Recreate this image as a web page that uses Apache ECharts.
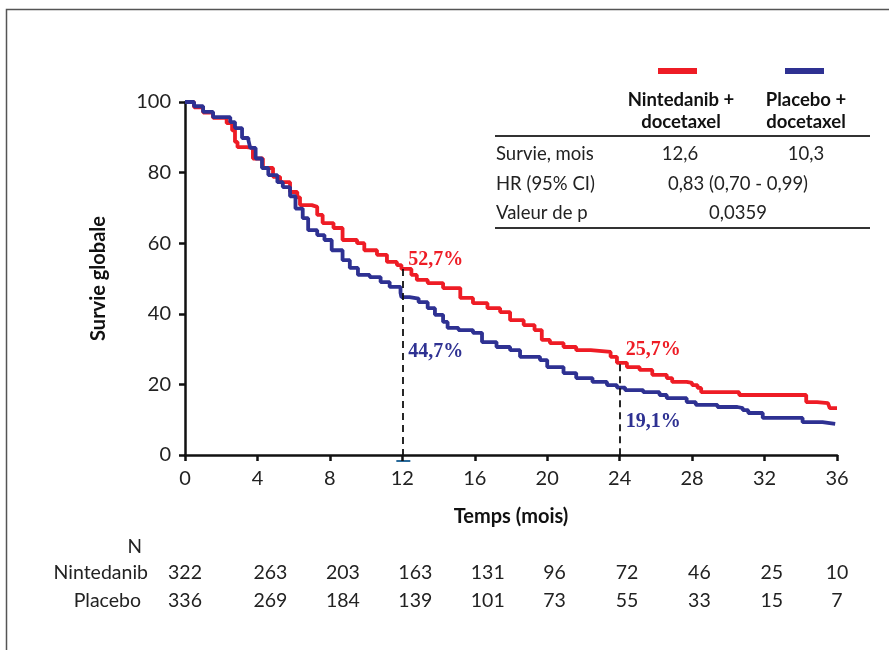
<!DOCTYPE html>
<html>
<head>
<meta charset="utf-8">
<script src="https://cdn.jsdelivr.net/npm/echarts@6/dist/echarts.min.js"></script>
<style>
html, body { margin: 0; padding: 0; background: #fff; }
#main { width: 889px; height: 650px; }
</style>
</head>
<body>
<div id="main"></div>
<script>
// Kaplan-Meier curves: [mois, survie %]
var nintedanib = [[0,100],[0.5,98.5],[1.0,97],[1.55,95.5],[2.3,94],[2.6,92],[2.76,88.7],[2.9,87.2],[3.4,87],[3.75,84],[4.3,81.3],[4.86,78.8],[5.25,77.3],[5.8,74.5],[6.2,73],[6.35,70.8],[7.0,70.3],[7.3,68],[7.6,65.7],[8.2,64.3],[8.7,60.9],[9.5,60],[9.9,58],[10.6,56.7],[11.15,54.7],[11.7,53.8],[11.95,52.7],[12.5,51],[12.8,49.6],[13.4,48.7],[14.25,47.3],[15.2,44.5],[15.9,43],[16.7,41.6],[17.4,40.5],[17.95,38.2],[18.7,36.8],[19.3,35.4],[19.7,32.6],[20.15,31.7],[20.9,30.6],[21.6,29.7],[22.4,29.2],[23.5,27.8],[23.85,26.1],[24.4,24.9],[25.1,24.1],[25.8,22.7],[26.6,21.8],[26.9,20.7],[27.7,20.4],[28.0,19.8],[28.3,19],[28.5,17.8],[30.6,17],[34.3,15],[34.9,14.7],[35.5,14.2],[35.6,13.3],[36,13.3]];
var placebo = [[0,100],[0.5,98.8],[1.0,97.2],[1.55,95.7],[2.5,94.3],[2.76,92.6],[3.15,89.8],[3.5,89.2],[3.6,87],[3.9,84],[4.25,81.3],[4.6,79.3],[5.1,77.3],[5.4,75.9],[5.8,73.3],[6.1,69.8],[6.5,67.1],[6.8,63.7],[7.3,62.3],[7.7,60.9],[8.1,58],[8.7,55.2],[9.1,53],[9.55,51],[10.2,50.4],[10.8,49],[11.3,47.6],[11.9,45.9],[11.95,44.7],[12.4,44.3],[12.9,43.3],[13.4,41.6],[13.8,39.7],[14.25,37.7],[14.5,36],[15.1,35.4],[15.9,34.6],[16.4,32],[17.2,30.6],[17.95,29.7],[18.5,27.8],[19.6,26.9],[20,24.9],[20.9,23.2],[21.6,21.8],[22.5,20.7],[23.3,19.8],[23.85,19.1],[24.3,18.4],[25.3,17.8],[26.2,17],[26.6,16.1],[27.7,15],[28.2,14.2],[29.4,13.6],[30.5,13.3],[30.8,12.7],[31.1,11.9],[31.9,10.5],[34.1,9.3],[35.2,8.8],[35.9,8.8]];

// repères à 12 et 24 mois
var markTimes = [12, 24];
var markNinte = [52.7, 25.7];
var markPlac = [44.7, 19.1];

// nombre de patients à risque
var riskTimes = [0, 4, 8, 12, 16, 20, 24, 28, 32, 36];
var riskNinte = [322, 263, 203, 163, 131, 96, 72, 46, 25, 10];
var riskPlac = [336, 269, 184, 139, 101, 73, 55, 33, 15, 7];

// tableau de résultats
var tableRows = ['Survie, mois', 'HR (95% CI)', 'Valeur de p'];
var tableMedian = ['12,6', '10,3'];
var tableHR = '0,83 (0,70 - 0,99)';
var tableP = '0,0359';

var RED = '#ee1c25';
var BLUE = '#2e3192';
var FONT = 'Lato';
var SERIF = '"Liberation Serif"';

function pct(v) { return String(v).replace('.', ',') + '%'; }

var chartDom = document.getElementById('main');
var myChart = echarts.init(chartDom);
var option = {
	animation: false,
	textStyle: { fontFamily: FONT },
	grid: { left: 185, right: 52, top: 102, bottom: 195 },
	xAxis: {
		type: 'value',
		min: 0, max: 36, interval: 4,
		name: 'Temps (mois)',
		nameLocation: 'middle',
		nameGap: 52,
		nameTextStyle: { fontFamily: FONT, fontWeight: 'bold', fontSize: 20, color: '#111' },
		axisLine: { show: true, lineStyle: { color: '#111', width: 2.5 } },
		axisTick: { show: true, length: 6, lineStyle: { color: '#111', width: 2.5 } },
		axisLabel: { margin: 14, fontSize: 20, color: '#222', fontFamily: FONT },
		splitLine: { show: false }
	},
	yAxis: {
		type: 'value',
		min: 0, max: 100, interval: 20,
		name: 'Survie globale',
		nameLocation: 'middle',
		nameGap: 76,
		nameTextStyle: { fontFamily: FONT, fontWeight: 'bold', fontSize: 20, color: '#111' },
		axisLine: { show: true, lineStyle: { color: '#111', width: 2.5 } },
		axisTick: { show: true, length: 6, lineStyle: { color: '#111', width: 2.5 } },
		axisLabel: { margin: 14, fontSize: 20, color: '#222', fontFamily: FONT },
		splitLine: { show: false }
	},
	series: [{
			name: 'Nintedanib + docetaxel',
			type: 'line',
			step: 'end',
			showSymbol: false,
			data: nintedanib,
			lineStyle: { color: RED, width: 3.8 },
			z: 3,
			markLine: {
				silent: true,
				symbol: 'none',
				label: { show: false },
				lineStyle: { color: '#111', width: 1.8, type: [7, 5] },
				data: markTimes.map(function (t, i) {
					return [{ coord: [t, markNinte[i]] }, { coord: [t, 0] }];
				})
			}
		},
		{
			name: 'Placebo + docetaxel',
			type: 'line',
			step: 'end',
			showSymbol: false,
			data: placebo,
			lineStyle: { color: BLUE, width: 3.8 },
			z: 4
		}
	]
};
myChart.setOption(option);

// annotations, positionnées via les axes
var g = [];
var dyR = [-9, -14];
var dyB = [55, 34];
markTimes.forEach(function (t, i) {
	var pR = myChart.convertToPixel({ gridIndex: 0 }, [t, markNinte[i]]);
	var pB = myChart.convertToPixel({ gridIndex: 0 }, [t, markPlac[i]]);
	g.push({ type: 'text', x: pR[0] + 6, y: pR[1] + dyR[i], style: { text: pct(markNinte[i]), fill: RED, font: 'bold 20px ' + SERIF, textAlign: 'left', textVerticalAlign: 'middle' } });
	g.push({ type: 'text', x: pB[0] + 6, y: pB[1] + dyB[i], style: { text: pct(markPlac[i]), fill: BLUE, font: 'bold 20px ' + SERIF, textAlign: 'left', textVerticalAlign: 'middle' } });
});

// nombre à risque
g.push({ type: 'text', x: 142, y: 547, style: { text: 'N', fill: '#222', font: '19px ' + FONT, textAlign: 'right', textVerticalAlign: 'middle' } });
g.push({ type: 'text', x: 148, y: 573, style: { text: 'Nintedanib', fill: '#222', font: '19.5px ' + FONT, textAlign: 'right', textVerticalAlign: 'middle' } });
g.push({ type: 'text', x: 141, y: 601, style: { text: 'Placebo', fill: '#222', font: '19.5px ' + FONT, textAlign: 'right', textVerticalAlign: 'middle' } });
riskTimes.forEach(function (t, i) {
	var px = myChart.convertToPixel({ xAxisIndex: 0 }, t);
	var ends = (i === 0 || i === riskTimes.length - 1);
	var ax = ends ? px : px - 4;
	var al = ends ? 'center' : 'left';
	g.push({ type: 'text', x: ax, y: 573, style: { text: String(riskNinte[i]), fill: '#222', font: '19.5px ' + FONT, textAlign: al, textVerticalAlign: 'middle' } });
	g.push({ type: 'text', x: ax, y: 601, style: { text: String(riskPlac[i]), fill: '#222', font: '19.5px ' + FONT, textAlign: al, textVerticalAlign: 'middle' } });
});

// tableau
g.push({ type: 'rect', shape: { x: 658, y: 68, width: 39, height: 6 }, style: { fill: RED } });
g.push({ type: 'rect', shape: { x: 785, y: 68, width: 39, height: 6 }, style: { fill: BLUE } });
g.push({ type: 'text', x: 681, y: 111, style: { text: 'Nintedanib +\ndocetaxel', fill: '#111', font: 'bold 18.5px ' + FONT, textAlign: 'center', textVerticalAlign: 'middle', lineHeight: 22 } });
g.push({ type: 'text', x: 806, y: 111, style: { text: 'Placebo +\ndocetaxel', fill: '#111', font: 'bold 18.5px ' + FONT, textAlign: 'center', textVerticalAlign: 'middle', lineHeight: 22 } });
g.push({ type: 'line', shape: { x1: 495, y1: 136, x2: 870, y2: 136 }, style: { stroke: '#333', lineWidth: 2 } });
g.push({ type: 'line', shape: { x1: 495, y1: 228, x2: 870, y2: 228 }, style: { stroke: '#333', lineWidth: 2 } });
var rowY = [154, 184, 213];
tableRows.forEach(function (r, i) {
	g.push({ type: 'text', x: 496, y: rowY[i], style: { text: r, fill: '#222', font: '18.5px ' + FONT, textAlign: 'left', textVerticalAlign: 'middle' } });
});
g.push({ type: 'text', x: 680, y: rowY[0], style: { text: tableMedian[0], fill: '#222', font: '18.5px ' + FONT, textAlign: 'center', textVerticalAlign: 'middle' } });
g.push({ type: 'text', x: 806, y: rowY[0], style: { text: tableMedian[1], fill: '#222', font: '18.5px ' + FONT, textAlign: 'center', textVerticalAlign: 'middle' } });
g.push({ type: 'text', x: 738, y: rowY[1], style: { text: tableHR, fill: '#222', font: '18.5px ' + FONT, textAlign: 'center', textVerticalAlign: 'middle' } });
g.push({ type: 'text', x: 738, y: rowY[2], style: { text: tableP, fill: '#222', font: '18.5px ' + FONT, textAlign: 'center', textVerticalAlign: 'middle' } });

// cadre
g.push({ type: 'polyline', shape: { points: [[6.5, 650], [6.5, 9.5], [889, 9.5]] }, style: { stroke: '#555', lineWidth: 1.5, fill: null } });
// petit trait bleu sous l'axe à 12 mois
var p12 = myChart.convertToPixel({ xAxisIndex: 0 }, 12);
g.push({ type: 'line', shape: { x1: p12 - 6, y1: 461, x2: p12 + 8, y2: 461 }, style: { stroke: '#2a6a9a', lineWidth: 2 } });

myChart.setOption({ graphic: g });
</script>
</body>
</html>
